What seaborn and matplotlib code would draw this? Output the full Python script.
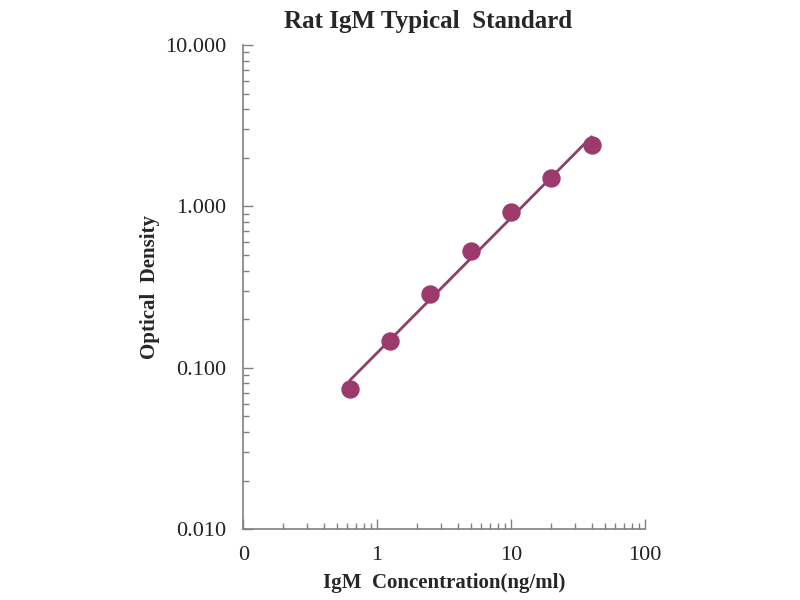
import numpy as np
import pandas as pd
import matplotlib
matplotlib.use("Agg")
import matplotlib.pyplot as plt
import seaborn as sns
from matplotlib.ticker import FixedLocator, FixedFormatter, LogLocator, NullFormatter

concentration = [0.625, 1.25, 2.5, 5, 10, 20, 40]
optical_density = [0.074, 0.147, 0.287, 0.53, 0.925, 1.49, 2.39]
x_tick_values = [0.1, 1, 10, 100]
x_tick_labels = ["0", "1", "10", "100"]
y_tick_values = [0.01, 0.1, 1, 10]
y_tick_labels = ["0.010", "0.100", "1.000", "10.000"]

sns.set_theme(style="white")
plt.rcParams["font.family"] = ["Liberation Serif", "DejaVu Serif"]

df = pd.DataFrame({"conc": concentration, "od": optical_density})

fig = plt.figure(figsize=(8, 6), dpi=100)
ax = fig.add_axes([0.304, 0.118, 0.502, 0.807])

# power-law trendline fitted in log space
slope, intercept = np.polyfit(np.log10(df["conc"]), np.log10(df["od"]), 1)
xs = np.array([df["conc"].min(), df["conc"].max()])
fit = pd.DataFrame({"conc": xs, "od": 10 ** (intercept + slope * np.log10(xs))})
sns.lineplot(data=fit, x="conc", y="od", ax=ax, color="#8a4068", linewidth=2)
sns.scatterplot(data=df, x="conc", y="od", ax=ax, color="#9c3a6c", s=150,
                edgecolor="#9c3a6c", zorder=3)

ax.set_xscale("log")
ax.set_yscale("log")
ax.set_xlim(0.1, 100)
ax.set_ylim(0.01, 10)

ax.xaxis.set_major_locator(FixedLocator(x_tick_values))
ax.xaxis.set_major_formatter(FixedFormatter(x_tick_labels))
ax.yaxis.set_major_locator(FixedLocator(y_tick_values))
ax.yaxis.set_major_formatter(FixedFormatter(y_tick_labels))
ax.xaxis.set_minor_locator(LogLocator(base=10, subs=np.arange(2, 10)))
ax.yaxis.set_minor_locator(LogLocator(base=10, subs=np.arange(2, 10)))
ax.xaxis.set_minor_formatter(NullFormatter())
ax.yaxis.set_minor_formatter(NullFormatter())

for side in ["top", "right"]:
    ax.spines[side].set_visible(False)
for side in ["left", "bottom"]:
    ax.spines[side].set_color("#808080")
    ax.spines[side].set_linewidth(1.2)

ax.tick_params(axis="both", which="both", bottom=True, left=True, top=False, right=False)
ax.tick_params(axis="both", which="major", direction="in", length=7,
               color="#808080", width=1, labelsize=16, labelcolor="#222222", pad=12)
ax.tick_params(axis="both", which="minor", direction="in", length=4,
               color="#808080", width=1)

ax.set_xlabel("IgM  Concentration(ng/ml)", fontsize=15, fontweight="bold", labelpad=6)
ax.set_ylabel("Optical  Density", fontsize=15, fontweight="bold", labelpad=4)
ax.set_title("Rat IgM Typical  Standard", fontsize=18, fontweight="bold", pad=12,
             x=0.46)

fig.savefig("out.png", dpi=100)
